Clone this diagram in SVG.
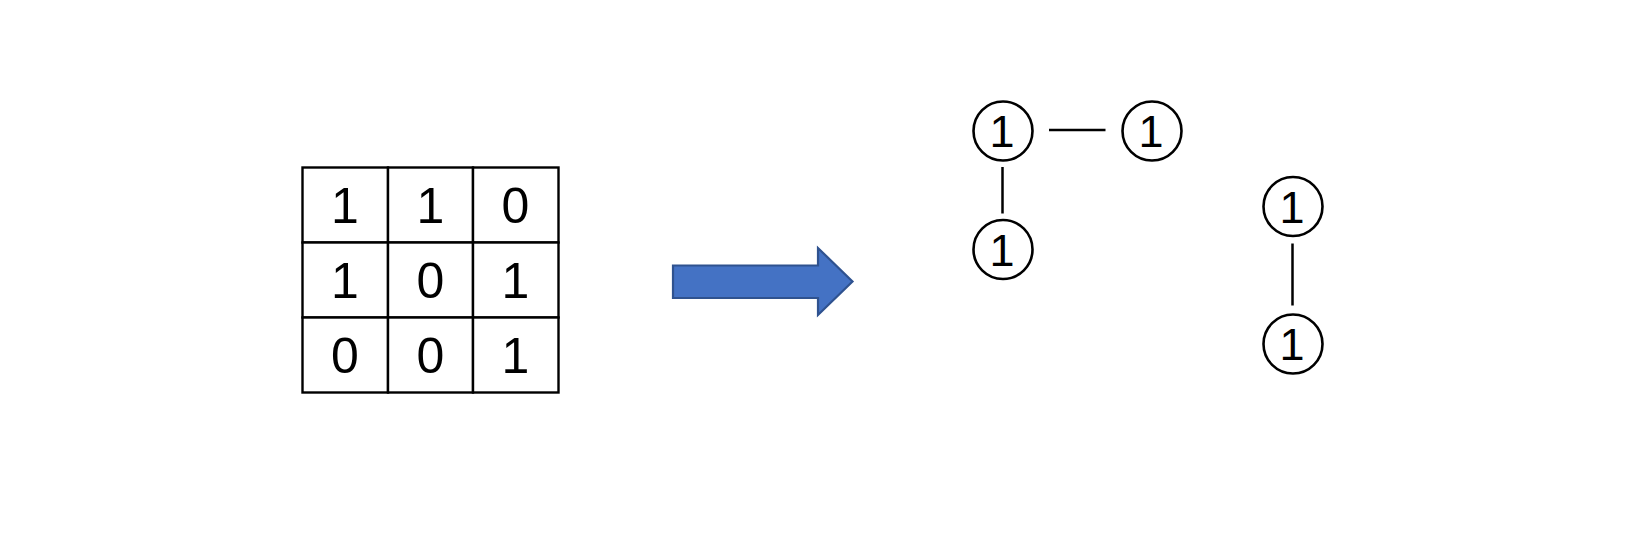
<svg xmlns="http://www.w3.org/2000/svg" width="1633" height="536" viewBox="0 0 1633 536">
<style>
.cell{fill:#fff;stroke:#000;stroke-width:2.4}
.num{font-family:"Liberation Sans",Arial,sans-serif;font-size:50px;fill:#000;text-anchor:middle}
.cnum{font-family:"Liberation Sans",Arial,sans-serif;font-size:45px;fill:#000;text-anchor:middle}
.node{fill:#fff;stroke:#000;stroke-width:2.6}
.edge{stroke:#000;stroke-width:2.5;fill:none}
</style>
<rect width="1633" height="536" fill="#fff"/>
<g id="grid">
<rect class="cell" x="302.5" y="167.5" width="85.5" height="75"/>
<rect class="cell" x="388" y="167.5" width="85" height="75"/>
<rect class="cell" x="473" y="167.5" width="85.5" height="75"/>
<rect class="cell" x="302.5" y="242.5" width="85.5" height="75"/>
<rect class="cell" x="388" y="242.5" width="85" height="75"/>
<rect class="cell" x="473" y="242.5" width="85.5" height="75"/>
<rect class="cell" x="302.5" y="317.5" width="85.5" height="75"/>
<rect class="cell" x="388" y="317.5" width="85" height="75"/>
<rect class="cell" x="473" y="317.5" width="85.5" height="75"/>
<text class="num" x="345" y="223">1</text>
<text class="num" x="430.5" y="223">1</text>
<text class="num" x="515.5" y="223">0</text>
<text class="num" x="345" y="298">1</text>
<text class="num" x="430.5" y="298">0</text>
<text class="num" x="515.5" y="298">1</text>
<text class="num" x="345" y="373">0</text>
<text class="num" x="430.5" y="373">0</text>
<text class="num" x="515.5" y="373">1</text>
</g>
<g id="arrow">
<polygon points="673,265.5 818,265.5 818,248 852.5,281.5 818,315 818,298 673,298" fill="#4472C4" stroke="#2F528F" stroke-width="2.2"/>
</g>
<g id="connectors">
<line class="edge" x1="1049" y1="130" x2="1105.5" y2="130"/>
<line class="edge" x1="1002.5" y1="167" x2="1002.5" y2="213.5"/>
<line class="edge" x1="1292.5" y1="243.5" x2="1292.5" y2="305.5"/>
</g>
<g id="n1"><circle class="node" cx="1003" cy="131" r="29.5"/><text class="cnum" x="1002" y="147">1</text></g>
<g id="n2"><circle class="node" cx="1152" cy="131" r="29.5"/><text class="cnum" x="1151" y="147">1</text></g>
<g id="n3"><circle class="node" cx="1003" cy="249.5" r="29.5"/><text class="cnum" x="1002" y="265.5">1</text></g>
<g id="n4"><circle class="node" cx="1293" cy="206.5" r="29.5"/><text class="cnum" x="1292" y="222.5">1</text></g>
<g id="n5"><circle class="node" cx="1293" cy="344" r="29.5"/><text class="cnum" x="1292" y="360">1</text></g>
</svg>
